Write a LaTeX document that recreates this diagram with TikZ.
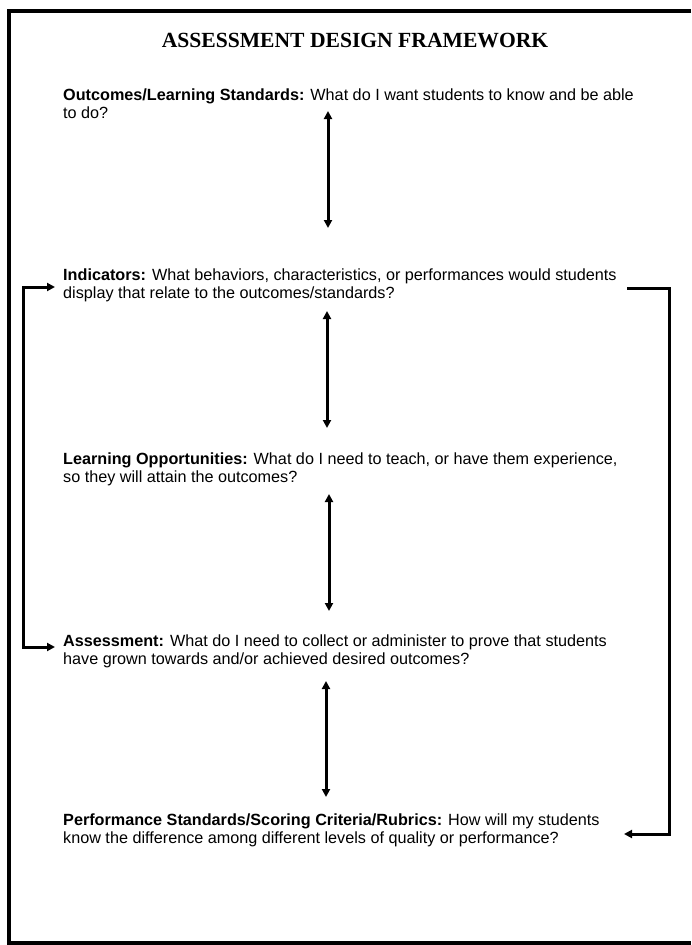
\documentclass[tikz,border=0pt]{standalone}
\usepackage{fontspec}
\setmainfont{Liberation Sans}
\newfontfamily\titlefont{Liberation Serif}
\usetikzlibrary{arrows.meta}
\begin{document}
\begin{tikzpicture}[x=1pt,y=-1pt,
  bodytext/.style={anchor=base west,inner sep=0pt,align=left,
    font=\fontsize{16.2}{18}\selectfont},
  titletext/.style={anchor=base,inner sep=0pt,
    font=\titlefont\bfseries\fontsize{21.6}{24}\selectfont},
  frameline/.style={line width=4pt,line join=miter},
  headtip/.style={Triangle[length=8pt,width=8pt]},
  dbl/.style={line width=3pt,{Triangle[length=8pt,width=8pt]}-{Triangle[length=8pt,width=8pt]}},
  brk/.style={line width=3pt,line join=miter}
]
\useasboundingbox[fill=white] (0,0) rectangle (691,945);
% frame (open on the right)
\draw[frameline] (691,11) -- (9,11) -- (9,943) -- (691,943);

\node[titletext] (t) at (355,47) {ASSESSMENT DESIGN FRAMEWORK};

% node anchors are the baselines of the second lines
\node[bodytext] (o) at (63,118) {\textbf{Outcomes/Learning Standards:} What do I want students to know and be able\\to do?};
\node[bodytext] (i) at (63,298) {\textbf{Indicators:} What behaviors, characteristics, or performances would students\\display that relate to the outcomes/standards?};
\node[bodytext] (l) at (63,482) {\textbf{Learning Opportunities:} What do I need to teach, or have them experience,\\so they will attain the outcomes?};
\node[bodytext] (a) at (63,664) {\textbf{Assessment:} What do I need to collect or administer to prove that students\\have grown towards and/or achieved desired outcomes?};
\node[bodytext] (p) at (63,843) {\textbf{Performance Standards/Scoring Criteria/Rubrics:} How will my students\\know the difference among different levels of quality or performance?};

% vertical double arrows
\draw[dbl] ([shift={(265,-7)}]o.base west) -- ([shift={(265,-70)}]i.base west);
\draw[dbl] ([shift={(264,13)}]i.base west) -- ([shift={(264,-54)}]l.base west);
\draw[dbl] ([shift={(266,12)}]l.base west) -- ([shift={(266,-53)}]a.base west);
\draw[dbl] ([shift={(263,17)}]a.base west) -- ([shift={(263,-46)}]p.base west);

% left bracket: indicators <-> assessment
\draw[brk,{Triangle[length=8pt,width=8pt]}-{Triangle[length=8pt,width=8pt]}]
  ([shift={(-8,-11)}]i.base west) -- ++(-32,0) |- ([shift={(-8,-17)}]a.base west);

% right bracket: indicators -> performance standards
\draw[brk,-{Triangle[length=8pt,width=8pt]}]
  ([shift={(564,-10)}]i.base west) -- ++(42,0) |- ([shift={(561,-9)}]p.base west);
\end{tikzpicture}
\end{document}
